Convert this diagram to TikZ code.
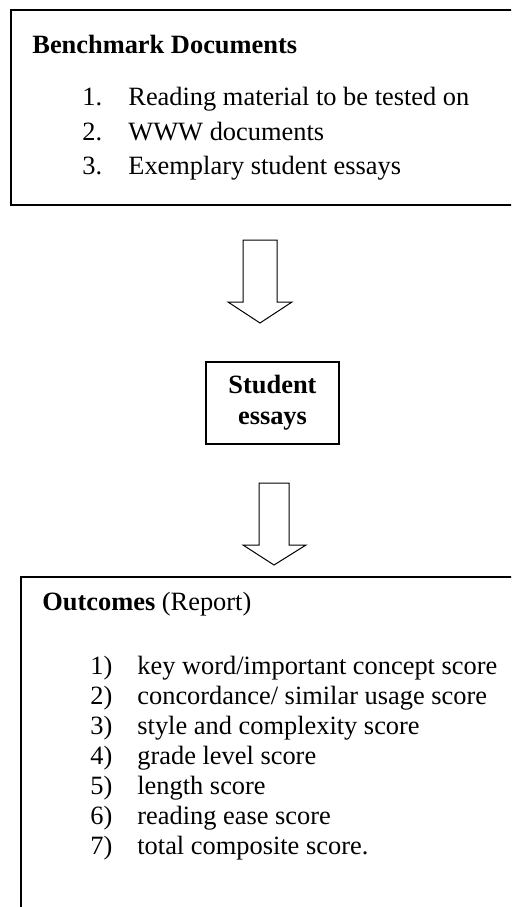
\documentclass[tikz,border=0pt]{standalone}
\usepackage{fontspec}
\setmainfont{Liberation Serif}
\begin{document}
\begin{tikzpicture}[x=0.5pt,y=-0.5pt,
  every node/.style={inner sep=0pt,font=\fontsize{13.2}{15}\selectfont},
  boxline/.style={line width=1pt},
  blockarrow/.style={line width=0.5pt,draw=black,fill=white},
  txt/.style={anchor=base west},
  num/.style={anchor=base west}]
\useasboundingbox (0,0) rectangle (511,907);
\clip (0,0) rectangle (511,907);
% top box
\draw[boxline] (540,10) -- (11,10) -- (11,205) -- (540,205);
\node[txt,font=\fontsize{13.2}{15}\selectfont\bfseries] (bench) at (32,53) {Benchmark Documents};
\node[num] (b1n) at (82,105) {1.};
\node[txt] (b1) at (128,105) {Reading material to be tested on};
\node[num] (b2n) at (82,140) {2.};
\node[txt] (b2) at (128,140) {WWW documents};
\node[num] (b3n) at (82,174) {3.};
\node[txt] (b3) at (128,174) {Exemplary student essays};
% arrow 1
\draw[blockarrow] (243,240) -- (277,240) -- (277,302) -- (292,302) -- (260,323) -- (228,302) -- (243,302) -- cycle;
% student box
\draw[boxline] (206,362) rectangle (339,444);
\node[align=center,font=\fontsize{13.2}{15.5}\selectfont\bfseries] (stud) at (272.5,403) {Student\\essays};
% arrow 2
\draw[blockarrow] (259,483) -- (289,483) -- (289,545) -- (306,545) -- (274,565) -- (243,545) -- (259,545) -- cycle;
% outcomes box
\draw[boxline] (540,577) -- (21,577) -- (21,940);
\node[txt] (out) at (42,610) {\textbf{Outcomes} (Report)};
\node[num] (o1n) at (90,674) {1)};
\node[txt] (o1) at (137,674) {key word/important concept score};
\node[num] (o2n) at (90,704) {2)};
\node[txt] (o2) at (137,704) {concordance/ similar usage score};
\node[num] (o3n) at (90,734) {3)};
\node[txt] (o3) at (137,734) {style and complexity score};
\node[num] (o4n) at (90,764) {4)};
\node[txt] (o4) at (137,764) {grade level score};
\node[num] (o5n) at (90,794) {5)};
\node[txt] (o5) at (137,794) {length score};
\node[num] (o6n) at (90,824) {6)};
\node[txt] (o6) at (137,824) {reading ease score};
\node[num] (o7n) at (90,854) {7)};
\node[txt] (o7) at (137,854) {total composite score.};
\end{tikzpicture}
\end{document}
